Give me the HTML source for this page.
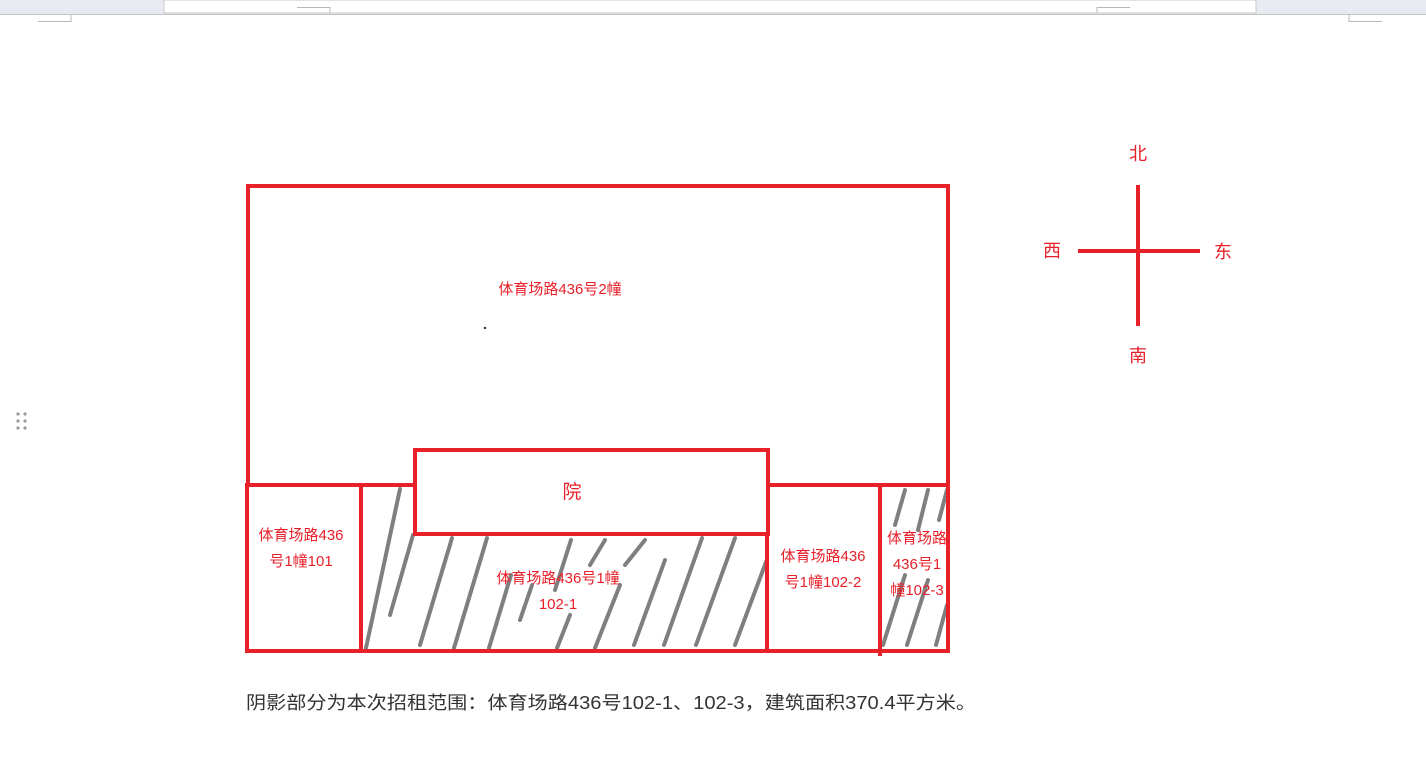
<!DOCTYPE html>
<html><head><meta charset="utf-8"><style>
body{margin:0;width:1426px;height:761px;background:#fff;overflow:hidden;font-family:"Liberation Sans","Noto Sans CJK SC",sans-serif}
</style></head><body>
<svg width="1426" height="761" xmlns="http://www.w3.org/2000/svg" style="position:absolute;left:0;top:0">
<rect x="0" y="0" width="1426" height="14" fill="#e7ebf1"/>
<rect x="164" y="0" width="1092" height="13" fill="#fff" stroke="#c8c8c8" stroke-width="1"/>
<line x1="0" y1="14.5" x2="1426" y2="14.5" stroke="#c4c4c4"/>
<path d="M297 7.5H330V13 M1130 7.5H1097V13 M38 21.5H71V15 M1382 21.5H1349V15" stroke="#b8b8b8" fill="none"/>
<g fill="#999"><circle cx="18" cy="414" r="1.6"/><circle cx="25" cy="414" r="1.6"/><circle cx="18" cy="421" r="1.6"/><circle cx="25" cy="421" r="1.6"/><circle cx="18" cy="428" r="1.6"/><circle cx="25" cy="428" r="1.6"/></g>
<g stroke="#7f7f7f" stroke-width="4" stroke-linecap="round">
<line x1="366" y1="648" x2="400" y2="489"/>
<line x1="390" y1="615" x2="413" y2="535"/>
<line x1="420" y1="645" x2="452" y2="538"/>
<line x1="454" y1="648" x2="487" y2="538"/>
<line x1="489" y1="648" x2="511" y2="575"/>
<line x1="520" y1="620" x2="532" y2="585"/>
<line x1="555" y1="590" x2="571" y2="540"/>
<line x1="557" y1="648" x2="570" y2="615"/>
<line x1="595" y1="648" x2="620" y2="585"/>
<line x1="590" y1="565" x2="605" y2="540"/>
<line x1="625" y1="565" x2="645" y2="540"/>
<line x1="634" y1="645" x2="665" y2="560"/>
<line x1="664" y1="645" x2="702" y2="538"/>
<line x1="696" y1="645" x2="735" y2="538"/>
<line x1="735" y1="645" x2="766" y2="562"/>
<line x1="883" y1="645" x2="905" y2="575"/>
<line x1="907" y1="645" x2="928" y2="580"/>
<line x1="936" y1="645" x2="947" y2="605"/>
<line x1="895" y1="525" x2="905" y2="490"/>
<line x1="918" y1="530" x2="928" y2="490"/>
<line x1="939" y1="520" x2="947" y2="490"/>
</g>
<g stroke="#e8202a" stroke-width="4" fill="none">
<rect x="248" y="186" width="700" height="299"/>
<rect x="247" y="485" width="701" height="166"/>
<line x1="361" y1="485" x2="361" y2="651"/>
<line x1="767" y1="485" x2="767" y2="651"/>
<line x1="880" y1="485" x2="880" y2="656"/>
<line x1="1138" y1="185" x2="1138" y2="326"/>
<line x1="1078" y1="251" x2="1200" y2="251"/>
</g>
<rect x="415" y="450" width="353" height="84" fill="#fff" stroke="#e8202a" stroke-width="4"/>
<g fill="#e8202a" font-size="15" text-anchor="middle">
<text x="560" y="294">体育场路436号2幢</text>
<text x="572" y="498" font-size="19">院</text>
<text x="301" y="540">体育场路436</text>
<text x="301" y="566">号1幢101</text>
<text x="558" y="583">体育场路436号1幢</text>
<text x="558" y="609">102-1</text>
<text x="823" y="561">体育场路436</text>
<text x="823" y="587">号1幢102-2</text>
<text x="917" y="543">体育场路</text>
<text x="917" y="569">436号1</text>
<text x="917" y="595">幢102-3</text>
<text x="1138" y="160" font-size="18">北</text>
<text x="1138" y="362" font-size="18">南</text>
<text x="1052" y="257" font-size="18">西</text>
<text x="1223" y="258" font-size="18">东</text>
</g>
<circle cx="485" cy="328" r="1.2" fill="#333"/>
<text x="246" y="709" font-size="18" fill="#333" textLength="730" lengthAdjust="spacingAndGlyphs">阴影部分为本次招租范围：体育场路436号102-1、102-3，建筑面积370.4平方米。</text>
</svg>
</body></html>
